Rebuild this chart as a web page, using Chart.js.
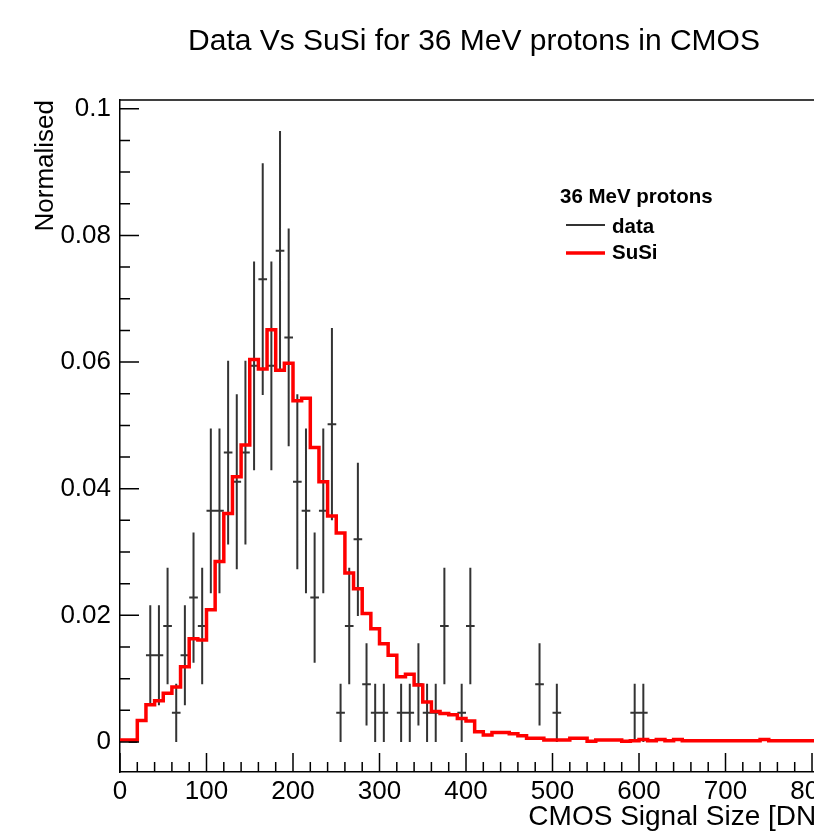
<!DOCTYPE html>
<html>
<head>
<meta charset="utf-8">
<title>Data Vs SuSi for 36 MeV protons in CMOS</title>
<script src="https://cdn.jsdelivr.net/npm/chart.js@4.4.1/dist/chart.umd.min.js"></script>
<style>
  html, body { margin: 0; padding: 0; background: #fff; overflow: hidden; }
  canvas { display: block; }
</style>
</head>
<body>
<canvas id="myChart" width="814" height="835"></canvas>
<script>
/* globals Chart:false */

// SuSi simulation, one value per 10 DN bin starting at 0
var susiBinWidth = 10;
var susiValues = [
  0.0003, 0.0003, 0.0034, 0.0059, 0.0065, 0.0077, 0.0087, 0.0119, 0.0163, 0.0161,
  0.0209, 0.0285, 0.0361, 0.0419, 0.0469, 0.0604, 0.0589, 0.0651, 0.0587, 0.0598,
  0.0539, 0.0543, 0.0465, 0.0411, 0.0357, 0.0330, 0.0267, 0.0242, 0.0203, 0.0179,
  0.0155, 0.0137, 0.0103, 0.0107, 0.0090, 0.0063, 0.0048, 0.0045, 0.0043, 0.0037,
  0.0033, 0.0016, 0.0011, 0.0015, 0.0015, 0.0013, 0.0010, 0.0006, 0.0006, 0.0003,
  0.0003, 0.0003, 0.0006, 0.0006, 0.0001, 0.0003, 0.0003, 0.0003, 0.0001, 0.0002,
  0.0004, 0.0002, 0.0004, 0.0002, 0.0004, 0.0002, 0.0002, 0.0002, 0.0002, 0.0002,
  0.0002, 0.0002, 0.0002, 0.0002, 0.0004, 0.0002, 0.0002, 0.0002, 0.0002, 0.0002,
  0.0002
];

// measured data: bin centre, normalised content, error
var dataX = [15, 35, 45, 55, 65, 75, 85, 95, 105, 115, 125, 135, 145, 155, 165, 175, 185, 195, 205, 215,
  225, 235, 245, 255, 265, 275, 285, 295, 305, 325, 335, 345, 355, 365, 375, 395, 405, 485, 505, 595, 605];
var dataY = [0, 0.0137, 0.0137, 0.0183, 0.0046, 0.0137, 0.0228, 0.0183, 0.0365, 0.0365,
  0.0457, 0.0411, 0.0457, 0.0594, 0.0731, 0.0594, 0.0776, 0.0639, 0.0411, 0.0365,
  0.0228, 0.0365, 0.0502, 0.0046, 0.0183, 0.0320, 0.0091, 0.0046, 0.0046, 0.0046,
  0.0046, 0.0091, 0.0046, 0.0046, 0.0183, 0.0046, 0.0183, 0.0091, 0.0046, 0.0046, 0.0046];
var dataErr = [0, 0.0079, 0.0079, 0.0092, 0.0046, 0.0079, 0.0103, 0.0092, 0.0130, 0.0130,
  0.0145, 0.0138, 0.0145, 0.0165, 0.0183, 0.0165, 0.0189, 0.0172, 0.0138, 0.0130,
  0.0103, 0.0130, 0.0152, 0.0046, 0.0092, 0.0121, 0.0065, 0.0046, 0.0046, 0.0046,
  0.0046, 0.0065, 0.0046, 0.0046, 0.0092, 0.0046, 0.0092, 0.0065, 0.0046, 0.0046, 0.0046];

var xTicks = [0, 100, 200, 300, 400, 500, 600, 700, 800];
var yTicks = [0, 0.02, 0.04, 0.06, 0.08, 0.1];
var yTickLabels = ['0', '0.02', '0.04', '0.06', '0.08', '0.1'];

(function () {
  'use strict'

  var fontFamily = "'Liberation Sans', Arial, Helvetica, sans-serif"
  Chart.defaults.font.family = fontFamily
  Chart.defaults.color = '#000'

  // histogram steps: one point per left bin edge, plus the closing edge
  var susiPoints = susiValues.map(function (v, i) {
    return { x: i * susiBinWidth, y: v }
  })
  susiPoints.push({ x: susiValues.length * susiBinWidth, y: susiValues[susiValues.length - 1] })

  // error crosses, split by null gaps
  var crossPoints = []
  dataX.forEach(function (x, i) {
    crossPoints.push({ x: x, y: dataY[i] - dataErr[i] }, { x: x, y: dataY[i] + dataErr[i] }, { x: x, y: null })
    crossPoints.push({ x: x - 5, y: dataY[i] }, { x: x + 5, y: dataY[i] }, { x: x, y: null })
  })

  // frame, inward ticks, title, x title and legend box like ROOT draws them
  var rootFrame = {
    id: 'rootFrame',
    afterDraw: function (chart) {
      var c = chart.ctx
      var a = chart.chartArea
      var xs = chart.scales.x
      var ys = chart.scales.y
      c.save()
      c.strokeStyle = '#000'
      c.lineWidth = 1.5
      c.beginPath()
      c.moveTo(a.left, a.top)
      c.lineTo(a.right, a.top)
      for (var v = 0; v <= xs.max; v += 20) {
        var px = xs.getPixelForValue(v)
        var len = v % 100 === 0 ? 19 : 10
        c.moveTo(px, a.bottom)
        c.lineTo(px, a.bottom - len)
      }
      for (var k = 0; k <= 20; k++) {
        var py = ys.getPixelForValue(k * 0.005)
        var len2 = k % 4 === 0 ? 19 : 10
        c.moveTo(a.left, py)
        c.lineTo(a.left + len2, py)
      }
      c.stroke()

      c.fillStyle = '#000'
      c.textBaseline = 'middle'
      c.textAlign = 'center'
      c.font = '30px ' + fontFamily
      c.fillText('Data Vs SuSi for 36 MeV protons in CMOS', 474, 42)

      c.textAlign = 'right'
      c.font = '28px ' + fontFamily
      c.fillText('CMOS Signal Size [DN]', 824, 817)

      // legend
      var ds = chart.data.datasets
      c.textAlign = 'left'
      c.font = 'bold 20.5px ' + fontFamily
      c.fillText('36 MeV protons', 560, 197)
      c.fillText(ds[1].label, 612, 227)
      c.fillText(ds[0].label, 612, 253)
      c.beginPath()
      c.strokeStyle = ds[1].borderColor
      c.lineWidth = 2
      c.moveTo(566, 225)
      c.lineTo(605, 225)
      c.stroke()
      c.beginPath()
      c.strokeStyle = ds[0].borderColor
      c.lineWidth = 3.5
      c.moveTo(566, 253)
      c.lineTo(605, 253)
      c.stroke()
      c.restore()
    }
  }

  var ctx = document.getElementById('myChart')
  // eslint-disable-next-line no-unused-vars
  var myChart = new Chart(ctx, {
    type: 'line',
    data: {
      datasets: [{
        label: 'SuSi',
        data: susiPoints,
        borderColor: '#ff0000',
        borderWidth: 3.5,
        stepped: 'before',
        pointRadius: 0,
        fill: false
      }, {
        label: 'data',
        data: crossPoints,
        borderColor: '#333333',
        borderWidth: 2,
        pointRadius: 0,
        spanGaps: false,
        fill: false
      }]
    },
    options: {
      responsive: false,
      animation: false,
      devicePixelRatio: 1,
      layout: { padding: { top: 100, left: 0, right: 0, bottom: 0 } },
      plugins: {
        legend: { display: false },
        tooltip: { enabled: false },
        title: { display: false }
      },
      scales: {
        x: {
          type: 'linear',
          min: 0,
          max: 802.3,
          bounds: 'data',
          grid: { display: false, drawTicks: false },
          border: { display: true, color: '#000', width: 1.5 },
          ticks: {
            autoSkip: false,
            maxRotation: 0,
            padding: 4,
            color: '#000',
            font: { size: 26 },
            callback: function (v) { return String(v) }
          },
          afterBuildTicks: function (s) {
            s.ticks = xTicks.map(function (v) { return { value: v } })
          },
          afterFit: function (s) {
            s.height = 63
            s.paddingLeft = 0
            s.paddingRight = 0
          }
        },
        y: {
          type: 'linear',
          min: -0.00474,
          max: 0.10139,
          bounds: 'data',
          grid: { display: false, drawTicks: false },
          border: { display: true, color: '#000', width: 1.5 },
          ticks: {
            autoSkip: false,
            padding: 9,
            color: '#000',
            font: { size: 26 },
            callback: function (v, i) { return yTickLabels[i] }
          },
          afterBuildTicks: function (s) {
            s.ticks = yTicks.map(function (v) { return { value: v } })
          },
          afterFit: function (s) {
            s.width = 120
            s.paddingTop = 0
            s.paddingBottom = 0
          },
          title: {
            display: true,
            text: 'Normalised',
            align: 'end',
            color: '#000',
            font: { size: 26 },
            padding: { top: 30, bottom: 0 }
          }
        }
      }
    },
    plugins: [rootFrame]
  })
})()
</script>
</body>
</html>
